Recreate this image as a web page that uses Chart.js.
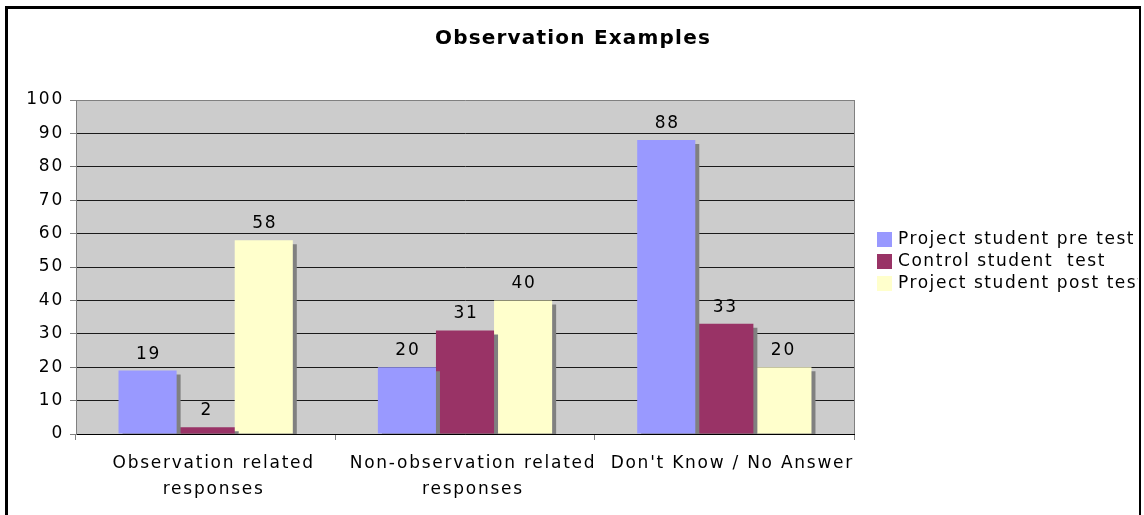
<!DOCTYPE html>
<html lang="en">
<head>
  <meta charset="UTF-8" />
  <title>Observation Examples</title>
  <script src="https://cdn.jsdelivr.net/npm/chart.js"></script>
  <style>
    html, body { margin: 0; padding: 0; background: #fff; }
    #wrap { position: absolute; left: 0; top: 0; width: 1144px; height: 515px; }
  </style>
</head>
<body>
<div id="wrap"><canvas id="chart" width="1144" height="515"></canvas></div>

<script>
  const categories = [
    ['Observation related', 'responses'],
    ['Non-observation related', 'responses'],
    'Don\'t Know / No Answer'
  ];
  const seriesNames = ['Project student pre test', 'Control student  test', 'Project student post test'];
  const preTest = [19, 20, 88];
  const controlTest = [2, 31, 33];
  const postTest = [58, 40, 20];
  const seriesColors = ['#9999FF', '#993366', '#FFFFCC'];
  const yTicks = [0, 10, 20, 30, 40, 50, 60, 70, 80, 90, 100];

  const FONT = 'DejaVu Sans';
  const SPACING = '1.75px';

  // canvas letter spacing gets reset whenever the canvas is resized
  const spacing = {
    id: 'spacing',
    beforeUpdate(chart) { chart.ctx.letterSpacing = SPACING; },
    beforeDraw(chart) {
      const ctx = chart.ctx;
      ctx.letterSpacing = SPACING;
      ctx.save();
      ctx.fillStyle = '#fff';
      ctx.fillRect(0, 0, chart.width, chart.height);
      const a = chart.chartArea;
      ctx.fillStyle = '#CCCCCC';
      ctx.fillRect(a.left, a.top, a.right - a.left, a.bottom - a.top);
      ctx.restore();
    }
  };

  // grey drop shadow behind each bar, value above it
  const shadows = {
    id: 'shadows',
    beforeDatasetsDraw(chart) {
      const ctx = chart.ctx;
      ctx.save();
      ctx.shadowColor = '#808080';
      ctx.shadowOffsetX = 4;
      ctx.shadowOffsetY = 4;
      ctx.shadowBlur = 0;
    },
    afterDatasetsDraw(chart) {
      const ctx = chart.ctx;
      ctx.restore();
      ctx.save();
      ctx.font = '17px "' + FONT + '"';
      ctx.fillStyle = '#000';
      ctx.textAlign = 'center';
      ctx.textBaseline = 'alphabetic';
      chart.data.datasets.forEach((ds, i) => {
        chart.getDatasetMeta(i).data.forEach((bar, j) => {
          ctx.fillText(String(ds.data[j]), bar.x + 1, bar.y - 12);
        });
      });
      ctx.restore();
    }
  };

  const frame = {
    id: 'frame',
    afterDraw(chart) {
      const ctx = chart.ctx;
      const a = chart.chartArea;
      ctx.save();
      // plot border right
      ctx.strokeStyle = '#808080';
      ctx.lineWidth = 1;
      ctx.beginPath();
      ctx.moveTo(a.right + 0.5, a.top);
      ctx.lineTo(a.right + 0.5, a.bottom);
      ctx.stroke();

      // title
      ctx.fillStyle = '#000';
      ctx.font = 'bold 20px "' + FONT + '"';
      ctx.letterSpacing = '1.2px';
      ctx.textAlign = 'center';
      ctx.textBaseline = 'middle';
      ctx.fillText('Observation Examples', 573, 39);

      // legend, clipped by the outer frame
      ctx.save();
      ctx.beginPath();
      ctx.rect(0, 0, 1138, chart.height);
      ctx.clip();
      ctx.font = '17px "' + FONT + '"';
      ctx.letterSpacing = '1.55px';
      ctx.textAlign = 'left';
      ctx.textBaseline = 'middle';
      chart.data.datasets.forEach((ds, i) => {
        const y = 240 + i * 22;
        ctx.fillStyle = ds.backgroundColor;
        ctx.fillRect(877, y - 8, 15, 15);
        ctx.fillStyle = '#000';
        ctx.fillText(ds.label, 898, y);
      });
      ctx.restore();

      // outer frame
      ctx.strokeStyle = '#000';
      ctx.lineWidth = 3;
      ctx.beginPath();
      ctx.moveTo(6.5, chart.height + 2);
      ctx.lineTo(6.5, 7.5);
      ctx.lineTo(1140, 7.5);
      ctx.stroke();
      ctx.lineWidth = 2;
      ctx.beginPath();
      ctx.moveTo(1140, 6);
      ctx.lineTo(1140, chart.height + 2);
      ctx.stroke();
      ctx.restore();
    }
  };

  const values = [preTest, controlTest, postTest];

  new Chart(document.getElementById('chart'), {
    type: 'bar',
    data: {
      labels: categories,
      datasets: seriesNames.map((name, i) => ({
        label: name,
        data: values[i],
        backgroundColor: seriesColors[i],
        borderWidth: 0,
        categoryPercentage: 0.672,
        barPercentage: 1,
        clip: 0
      }))
    },
    options: {
      responsive: false,
      animation: false,
      events: [],
      layout: { padding: { top: 100, right: 290, bottom: 0, left: 0 } },
      plugins: {
        legend: { display: false },
        title: { display: false },
        tooltip: { enabled: false }
      },
      scales: {
        x: {
          offset: true,
          afterFit(scale) { scale.height = 81; },
          grid: {
            offset: true,
            drawOnChartArea: false,
            drawTicks: true,
            tickLength: 6,
            tickColor: '#808080'
          },
          border: { color: '#000', width: 1 },
          ticks: {
            color: '#000',
            font: { family: FONT, size: 17, lineHeight: 1.5 },
            padding: 11,
            labelOffset: 8,
            maxRotation: 0,
            autoSkip: false
          }
        },
        y: {
          min: 0,
          max: 100,
          afterFit(scale) { scale.width = 76; },
          afterBuildTicks(scale) { scale.ticks = yTicks.map(v => ({ value: v })); },
          grid: {
            color: ctx => (ctx.tick && ctx.tick.value === 100 ? '#808080' : '#1a1a1a'),
            tickColor: '#808080',
            tickLength: 6,
            lineWidth: 1
          },
          border: { color: '#808080', width: 1 },
          ticks: {
            color: '#000',
            font: { family: FONT, size: 17 },
            padding: 6
          }
        }
      }
    },
    plugins: [spacing, shadows, frame]
  });
</script>
</body>
</html>
